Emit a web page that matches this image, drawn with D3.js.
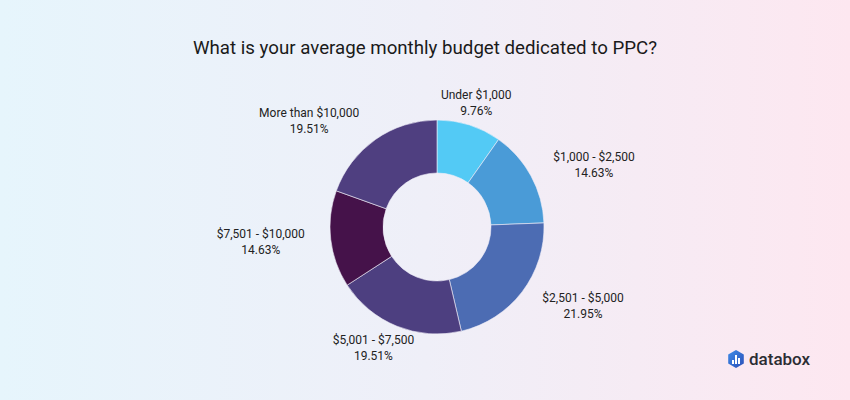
<!DOCTYPE html>
<html><head><meta charset="utf-8">
<script src="https://cdn.jsdelivr.net/npm/d3@7"></script>
<style>
html,body{margin:0;padding:0;}
body{width:850px;height:400px;overflow:hidden;font-family:Roboto,"Noto Sans",sans-serif;}
</style></head>
<body>
<svg id="chart" width="850" height="400"></svg>
<script>
const title = "What is your average monthly budget dedicated to PPC?";
const categories = ["Under $1,000", "$1,000 - $2,500", "$2,501 - $5,000", "$5,001 - $7,500", "$7,501 - $10,000", "More than $10,000"];
const values = [9.76, 14.63, 21.95, 19.51, 14.63, 19.51];
const colors = ["#53CAF5", "#4A9BD7", "#4C6CB3", "#4D3F80", "#45124A", "#4F3F80"];

const W = 850, H = 400;
const svg = d3.select("#chart");
const defs = svg.append("defs");
const bg = defs.append("linearGradient").attr("id","bg").attr("x1","0").attr("x2","1").attr("y1","0").attr("y2","0");
bg.append("stop").attr("offset","0").attr("stop-color","#E6F5FC");
bg.append("stop").attr("offset","0.5").attr("stop-color","#EFEFF8");
bg.append("stop").attr("offset","1").attr("stop-color","#FDE7F0");
svg.append("rect").attr("width",W).attr("height",H).attr("fill","url(#bg)");

svg.append("text").attr("x",425).attr("y",54).attr("text-anchor","middle")
  .attr("font-size",18.7).attr("fill","#1a1a1a").text(title);

const cx = 437, cy = 227, R = 107, r = 54;
const g = svg.append("g").attr("transform",`translate(${cx},${cy})`);
const pie = d3.pie().sort(null).value(d => d.v);
const data = pie(categories.map((c,i)=>({c, v: values[i], col: colors[i]})));
const arc = d3.arc().innerRadius(r).outerRadius(R);
g.selectAll("path.slice").data(data).join("path").attr("class","slice")
  .attr("d", arc).attr("fill", d => d.data.col)
  .attr("stroke","#f0eef8").attr("stroke-width",0.6);

const LR = 130;
const labels = g.selectAll("g.lbl").data(data).join("g").attr("class","lbl");
labels.each(function(d){
  const a = (d.startAngle + d.endAngle)/2;
  const s = Math.sin(a), c = -Math.cos(a);
  let x = LR*s, y = LR*c;
  const sel = d3.select(this);
  const t1 = sel.append("text").attr("text-anchor","middle").attr("font-size",12).attr("fill","#222").text(d.data.c);
  const t2 = sel.append("text").attr("text-anchor","middle").attr("font-size",12).attr("fill","#222").text(d.data.v.toFixed(2)+"%");
  const w = Math.max(t1.node().getComputedTextLength(), t2.node().getComputedTextLength());
  let mx = x;
  if (s > 0.45) mx = x + 2 + w/2;
  else if (s < -0.45) mx = x - 3 - w/2;
  else if (c > 0) mx = x + s*40;
  t1.attr("x",mx).attr("y",y-4);
  t2.attr("x",mx).attr("y",y+12);
});

// databox logo
const logo = svg.append("g").attr("transform","translate(736,359)");
const lg = defs.append("linearGradient").attr("id","lg").attr("x1","0").attr("x2","1").attr("y1","0").attr("y2","1");
lg.append("stop").attr("offset","0").attr("stop-color","#3F8CE8");
lg.append("stop").attr("offset","1").attr("stop-color","#2A4FB8");
const hex = d3.range(6).map(i=>{const a=Math.PI/3*i+Math.PI/6;return [9*Math.cos(a),9*Math.sin(a)];});
logo.append("path").attr("d","M"+hex.join("L")+"Z").attr("fill","url(#lg)");
[[-4,1,2,4],[-1,-4,2,9],[2,-1,2,6]].forEach(b=>logo.append("rect").attr("x",b[0]).attr("y",b[1]).attr("width",b[2]).attr("height",b[3]).attr("fill","#fff"));
svg.append("text").attr("x",749).attr("y",365).attr("font-size",17).attr("font-weight",500)
  .attr("fill","#2b2d33").text("databox");
</script>
</body></html>
